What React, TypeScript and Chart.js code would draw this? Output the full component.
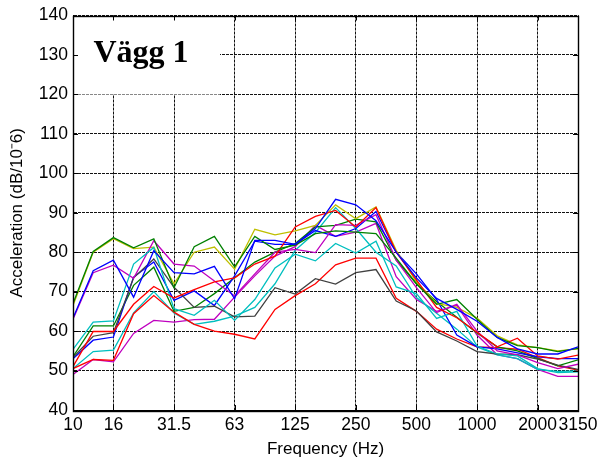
import React, { useEffect, useRef } from 'react';
import { Chart, registerables } from 'chart.js';

Chart.register(...registerables);

// Third-octave band centre frequencies (Hz)
const bands = ['10', '12.5', '16', '20', '25', '31.5', '40', '50', '63', '80', '100', '125', '160', '200', '250', '315', '400', '500', '630', '800', '1000', '1250', '1600', '2000', '2500', '3150'];
// Bands that carry a tick label / grid line
const tickBands = ['10', '16', '31.5', '63', '125', '250', '500', '1000', '2000', '3150'];

const yMin = 40;
const yMax = 140;
const yStep = 10;

// Measurement series (dB re 1e-6 m/s²)
const blue1 = [63.3, 75.3, 78.0, 68.6, 80.4, 74.8, 74.5, 76.4, 68.2, 83.0, 83.0, 82.0, 86.0, 93.4, 92.0, 88.0, 80.0, 73.5, 68.3, 65.5, 62.5, 58.4, 55.5, 54.2, 54.2, 56.0];
const green1 = [67.0, 80.2, 83.7, 81.1, 83.4, 71.0, 81.4, 84.0, 76.3, 84.0, 80.7, 81.8, 84.7, 85.4, 85.1, 84.7, 78.5, 72.0, 66.8, 68.0, 63.0, 58.4, 56.3, 55.8, 54.8, 55.6];
const red1 = [51.0, 59.9, 59.9, 66.8, 71.3, 68.4, 70.5, 72.5, 73.5, 77.0, 79.0, 86.4, 89.1, 90.6, 86.4, 91.3, 80.0, 73.0, 66.0, 63.4, 59.7, 56.0, 58.2, 53.7, 52.9, 53.9];
const cyan1 = [55.4, 62.3, 62.6, 77.0, 81.2, 65.7, 64.0, 67.8, 62.7, 68.0, 76.0, 79.5, 77.8, 82.2, 79.8, 82.8, 71.2, 69.5, 63.2, 65.0, 56.2, 54.2, 53.7, 50.5, 49.5, 49.7];
const magenta1 = [63.0, 74.8, 76.7, 73.4, 82.9, 77.0, 76.5, 72.7, 68.9, 74.5, 80.0, 80.7, 79.9, 87.0, 86.8, 89.5, 78.0, 71.0, 64.7, 66.8, 60.0, 55.0, 54.0, 52.0, 50.5, 51.6];
const yellow1 = [66.5, 80.0, 83.4, 80.9, 81.3, 72.0, 80.0, 81.3, 75.7, 85.8, 84.4, 85.4, 86.8, 92.0, 88.5, 91.5, 80.5, 72.5, 67.0, 66.0, 63.3, 58.8, 56.5, 55.8, 55.0, 55.5];
const black1 = [53.3, 58.7, 59.6, 73.5, 78.3, 71.1, 66.0, 66.3, 63.6, 63.8, 71.0, 69.4, 73.3, 71.9, 74.8, 75.6, 67.6, 65.1, 59.8, 57.5, 54.8, 54.2, 54.0, 52.9, 51.4, 50.3];
const blue2 = [53.0, 57.7, 58.5, 73.7, 77.5, 67.8, 70.2, 66.5, 74.0, 82.8, 82.0, 82.0, 85.5, 84.0, 86.0, 90.3, 80.0, 74.5, 68.0, 59.0, 56.0, 55.5, 54.5, 53.5, 53.0, 53.0];
const green2 = [53.5, 61.3, 61.3, 71.6, 76.2, 65.0, 66.0, 69.5, 73.5, 77.5, 80.0, 82.2, 86.4, 86.8, 88.4, 87.7, 78.0, 72.0, 67.5, 63.5, 59.5, 56.0, 55.0, 53.0, 51.2, 52.7];
const red2 = [50.5, 52.8, 52.6, 64.4, 69.0, 64.8, 61.7, 60.0, 59.2, 58.0, 65.5, 69.0, 72.0, 76.8, 78.5, 78.5, 68.3, 65.0, 60.5, 58.0, 56.0, 55.8, 55.4, 53.3, 51.2, 50.1];
const cyan2 = [50.5, 54.8, 55.2, 64.6, 70.0, 64.6, 61.7, 62.5, 63.8, 66.0, 72.0, 80.5, 85.0, 91.3, 86.0, 80.0, 76.5, 68.5, 64.5, 60.5, 56.0, 54.0, 53.0, 50.3, 49.8, 49.9];
const magenta2 = [49.0, 52.8, 52.2, 59.4, 62.7, 62.3, 62.9, 63.0, 68.6, 74.0, 79.0, 81.4, 86.8, 84.0, 85.1, 87.3, 73.8, 68.0, 65.0, 66.5, 59.0, 54.0, 53.0, 50.3, 48.5, 48.5];

const seriesList = [blue1, green1, red1, cyan1, magenta1, yellow1, black1, blue2, green2, red2, cyan2, magenta2];
const seriesColors = ['#0000ff', '#008000', '#ff0000', '#00bfbf', '#bf00bf', '#bfbf00', '#404040', '#0000ff', '#008000', '#ff0000', '#00bfbf', '#bf00bf'];

const titleText = 'Vägg 1';
const xTitle = 'Frequency (Hz)';
const yTitle = 'Acceleration (dB/10\u207B6)';

const SANS = '"Liberation Sans", Arial, Helvetica, sans-serif';

const boxPlugin = {
  id: 'matlabBox',
  afterDatasetsDraw(chart: any) {
    const { ctx, chartArea: a, scales } = chart;
    const xs = scales.x;
    const ys = scales.y;
    ctx.save();
    // white label box in upper-left corner
    ctx.fillStyle = '#ffffff';
    ctx.fillRect(a.left + 1, a.top + 1, 146, 78);
    ctx.fillStyle = '#000000';
    ctx.font = 'bold 32px "Liberation Serif", "Times New Roman", serif';
    ctx.textAlign = 'center';
    ctx.textBaseline = 'alphabetic';
    ctx.fillText(titleText, a.left + 68, a.top + 46);
    // box border
    ctx.strokeStyle = '#000000';
    ctx.lineWidth = 1.4;
    ctx.strokeRect(Math.round(a.left) + 0.5, Math.round(a.top) + 0.5, Math.round(a.right - a.left), Math.round(a.bottom - a.top));
    // inward ticks
    ctx.lineWidth = 1;
    ctx.beginPath();
    xs.ticks.forEach((t: any) => {
      const px = Math.round(xs.getPixelForValue(t.value)) + 0.5;
      ctx.moveTo(px, a.top);
      ctx.lineTo(px, a.top + 5);
      ctx.moveTo(px, a.bottom);
      ctx.lineTo(px, a.bottom - 5);
    });
    ys.ticks.forEach((t: any) => {
      const py = Math.round(ys.getPixelForValue(t.value)) + 0.5;
      ctx.moveTo(a.left, py);
      ctx.lineTo(a.left + 5, py);
      ctx.moveTo(a.right, py);
      ctx.lineTo(a.right - 5, py);
    });
    ctx.stroke();
    ctx.restore();
  },
};

export default function App() {
  const canvasRef = useRef<HTMLCanvasElement | null>(null);

  useEffect(() => {
    const canvas = canvasRef.current;
    if (!canvas) return;
    const tickIndex = tickBands.map((b) => bands.indexOf(b));
    const chart = new Chart(canvas, {
      type: 'line',
      data: {
        datasets: seriesList.map((vals, k) => ({
          data: vals.map((v, i) => ({ x: i, y: v })),
          borderColor: seriesColors[k],
          backgroundColor: seriesColors[k],
          borderWidth: 1.3,
          pointRadius: 0,
          tension: 0,
          fill: false,
        })),
      },
      options: {
        animation: false,
        responsive: false,
        devicePixelRatio: 1,
        layout: { padding: { left: 0, right: 25, top: 15, bottom: 0 } },
        plugins: {
          legend: { display: false },
          tooltip: { enabled: false },
        },
        scales: {
          x: {
            type: 'linear',
            min: 0,
            max: bands.length - 1,
            afterBuildTicks: (scale: any) => {
              scale.ticks = tickIndex.map((v) => ({ value: v }));
            },
            afterFit: (scale: any) => {
              scale.height = 56;
            },
            ticks: {
              autoSkip: false,
              maxRotation: 0,
              minRotation: 0,
              padding: 5,
              color: '#000',
              font: { family: SANS, size: 17.5 },
              callback: (v: any) => bands[Math.round(Number(v))],
            },
            grid: { color: '#111', lineWidth: 1, drawTicks: false },
            border: { display: true, color: '#000', width: 1, dash: [3, 1] },
            title: {
              display: true,
              text: xTitle,
              color: '#000',
              font: { family: SANS, size: 17 },
              padding: { top: 0, bottom: 6 },
            },
          },
          y: {
            type: 'linear',
            min: yMin,
            max: yMax,
            afterFit: (scale: any) => {
              scale.width = 73;
            },
            ticks: {
              stepSize: yStep,
              padding: 5,
              color: '#000',
              font: { family: SANS, size: 17.5 },
            },
            grid: { color: '#111', lineWidth: 1, drawTicks: false },
            border: { display: true, color: '#000', width: 1, dash: [3, 1] },
            title: {
              display: true,
              text: yTitle,
              color: '#000',
              font: { family: SANS, size: 17 },
              padding: { top: 7, bottom: 0 },
            },
          },
        },
      },
      plugins: [boxPlugin],
    });
    return () => chart.destroy();
  }, []);

  return (
    <div style={{ position: 'fixed', left: 0, top: 0, width: 603, height: 466, background: '#fff' }}>
      <canvas ref={canvasRef} width={603} height={466} />
    </div>
  );
}
